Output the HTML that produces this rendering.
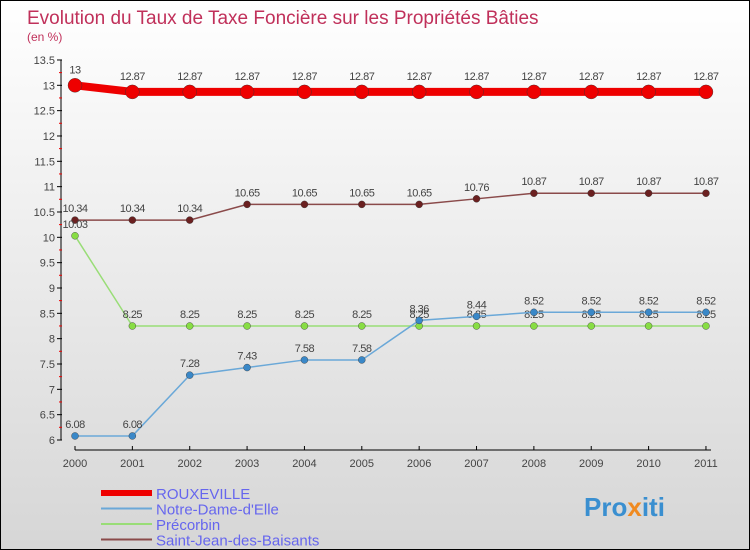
<!DOCTYPE html>
<html><head><meta charset="utf-8"><style>
body{margin:0}
#c{width:748px;height:548px;border:1px solid #000;background:linear-gradient(#ffffff,#d6d6d6);position:relative;font-family:"Liberation Sans",sans-serif;overflow:hidden}
</style></head><body>
<div id="c">
<svg id="s" width="748" height="548">
<text x="26" y="23" font-size="19" fill="#c0305a">Evolution du Taux de Taxe Foncière sur les Propriétés Bâties</text>
<text x="26" y="40" font-size="12" fill="#c0305a">(en %)</text>
<text x="583" y="515" font-size="26" font-weight="bold" fill="#3a8fd0">Pro<tspan fill="#f08a20">x</tspan>iti</text>
</svg>
</div>
<script>
const years=[2000,2001,2002,2003,2004,2005,2006,2007,2008,2009,2010,2011];
const yTicks=[6,6.5,7,7.5,8,8.5,9,9.5,10,10.5,11,11.5,12,12.5,13,13.5];
const names=["ROUXEVILLE","Notre-Dame-d'Elle","Précorbin","Saint-Jean-des-Baisants"];
const rouxeville=[13,12.87,12.87,12.87,12.87,12.87,12.87,12.87,12.87,12.87,12.87,12.87];
const notreDame=[6.08,6.08,7.28,7.43,7.58,7.58,8.36,8.44,8.52,8.52,8.52,8.52];
const precorbin=[10.03,8.25,8.25,8.25,8.25,8.25,8.25,8.25,8.25,8.25,8.25,8.25];
const saintJean=[10.34,10.34,10.34,10.65,10.65,10.65,10.65,10.76,10.87,10.87,10.87,10.87];
const NS="http://www.w3.org/2000/svg",s=document.getElementById('s');
const X=i=>74+i*57.36, Y=v=>439-(v-6)*50.67;
function el(t,a,p){const e=document.createElementNS(NS,t);for(const k in a)e.setAttribute(k,a[k]);(p||s).appendChild(e);return e;}
let a=el('line',{x1:60,y1:Y(13.5),x2:60,y2:Y(6),stroke:'#000'});


yTicks.forEach(v=>{const y=Y(v);
 el('line',{x1:56,y1:y,x2:61,y2:y,stroke:'#000'});
 el('line',{x1:58,y1:y-12.7,x2:61,y2:y-12.7,stroke:v<13.5?'#e00':'none'});
 const t=el('text',{x:54,y:y+4,'font-size':11,fill:'#444','text-anchor':'end'});t.textContent=v;
 
 });
a=el('line',{x1:74,y1:449,x2:710,y2:449,stroke:'#000'});


years.forEach((yr,i)=>{el('line',{x1:X(i),y1:445,x2:X(i),y2:449,stroke:'#000'});
 const t=el('text',{x:X(i),y:466,'font-size':11,fill:'#444','text-anchor':'middle'});t.textContent=yr;
 
 });
const series=[
 {d:saintJean,c:'#6b2020',lc:'#8a4a4a',w:1.5,r:3.5,n:'saint-jean'},
 {d:precorbin,c:'#88dd44',lc:'#99dd77',w:1.5,r:3.5,n:'precorbin'},
 {d:notreDame,c:'#3a88c8',lc:'#6aa8d8',w:1.5,r:3.5,n:'notre-dame'},
 {d:rouxeville,c:'#ee0000',lc:'#ee0000',w:8,r:7,n:'rouxeville'}];
series.forEach(sr=>{
 const p=el('polyline',{points:sr.d.map((v,i)=>X(i)+','+Y(v)).join(' '),fill:'none',stroke:sr.lc,'stroke-width':sr.w});
 
 
 sr.d.forEach((v,i)=>{const c=el('circle',{cx:X(i),cy:Y(v),r:sr.r,fill:sr.c,stroke:'#333','stroke-width':0.4});
  
  
  const t=el('text',{x:X(i),y:Y(v)-(sr.r>5?12:8),'font-size':11,fill:'#444','text-anchor':'middle','letter-spacing':'-0.5'});t.textContent=v;
  
  });
});
const lg=[['#ee0000',6],['#6aa8d8',2],['#99dd77',2],['#8a4a4a',2]];
names.forEach((n,i)=>{const y=492+i*15.5;
 const l=el('line',{x1:100,y1:y,x2:151,y2:y,stroke:lg[i][0],'stroke-width':lg[i][1]});
 
 
 const t=el('text',{x:155,y:y+6,'font-size':15,fill:'#6666ee'});t.textContent=n;
 
 });
</script>
</body></html>
